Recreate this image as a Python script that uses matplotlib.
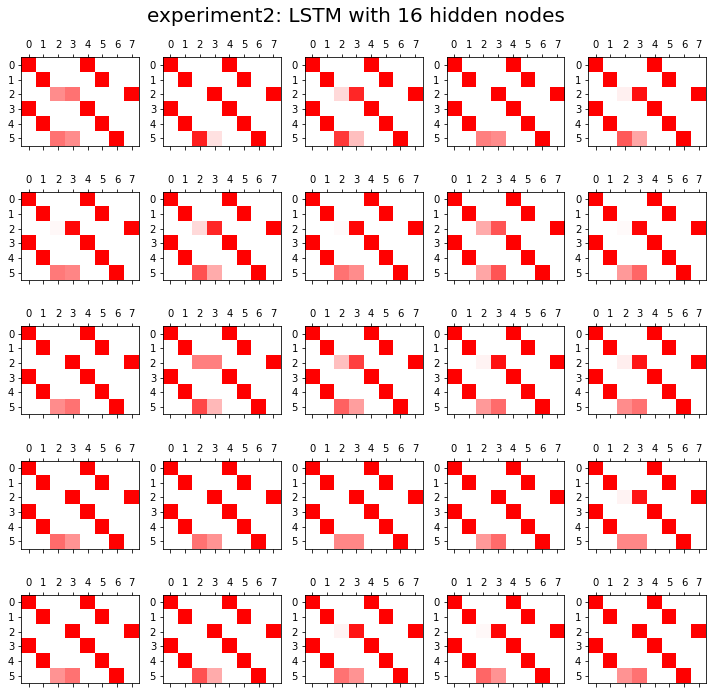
import numpy as np
import matplotlib
matplotlib.use("Agg")
import matplotlib.pyplot as plt
from matplotlib.colors import LinearSegmentedColormap

title = "experiment2: LSTM with 16 hidden nodes"

# each panel: 6x8 matrix; fixed cells are always 1, only rows 2 and 5 at cols 2,3 vary
# values (row2 col2, row2 col3, row5 col2, row5 col3), read row by row of the grid
row2_c2 = [0.45, 0.00, 0.15, 0.00, 0.06,
           0.03, 0.15, 0.02, 0.33, 0.02,
           0.00, 0.50, 0.25, 0.05, 0.07,
           0.00, 0.00, 0.00, 0.00, 0.05,
           0.00, 0.00, 0.05, 0.03, 0.00]
row2_c3 = [0.55, 1.00, 0.85, 1.00, 0.94,
           0.97, 0.85, 0.98, 0.67, 0.98,
           1.00, 0.50, 0.75, 0.93, 0.92,
           1.00, 1.00, 1.00, 1.00, 0.92,
           1.00, 1.00, 0.92, 0.97, 1.00]
row5_c2 = [0.55, 0.88, 0.78, 0.50, 0.65,
           0.52, 0.68, 0.55, 0.35, 0.40,
           0.45, 0.72, 0.62, 0.40, 0.45,
           0.58, 0.55, 0.47, 0.40, 0.47,
           0.42, 0.68, 0.55, 0.60, 0.42]
row5_c3 = [0.45, 0.12, 0.25, 0.45, 0.35,
           0.48, 0.33, 0.45, 0.67, 0.60,
           0.55, 0.28, 0.38, 0.58, 0.55,
           0.42, 0.42, 0.47, 0.58, 0.47,
           0.55, 0.33, 0.42, 0.42, 0.55]

ones = [(0, 0), (0, 4), (1, 1), (1, 5), (2, 7), (3, 0), (3, 4), (4, 1), (4, 5), (5, 6)]

cmap = LinearSegmentedColormap.from_list("wr", ["#ffffff", "#ff0000"])

fig, axes = plt.subplots(5, 5, figsize=(712 / 72, 694 / 72), dpi=72)
fig.subplots_adjust(left=0.0299, right=0.9916, top=0.9174, bottom=0.0154,
                    wspace=0.204, hspace=0.518)
fig.suptitle(title, fontsize=20, y=0.99)

for i, ax in enumerate(axes.flat):
    m = np.zeros((6, 8))
    for r, c in ones:
        m[r, c] = 1.0
    m[2, 2] = row2_c2[i]
    m[2, 3] = row2_c3[i]
    m[5, 2] = row5_c2[i]
    m[5, 3] = row5_c3[i]
    ax.matshow(m, cmap=cmap, vmin=0, vmax=1)
    ax.set_xticks(range(8))
    ax.set_yticks(range(6))
    ax.tick_params(labelsize=10)

fig.savefig("out.png", dpi=72)
